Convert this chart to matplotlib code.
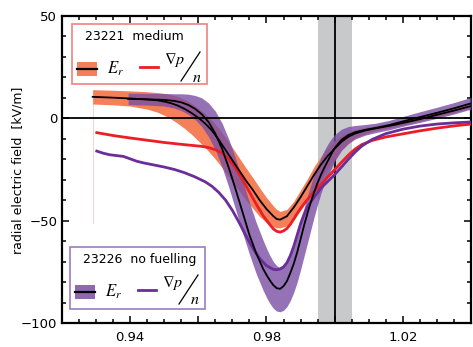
import numpy as np
import matplotlib
matplotlib.use("Agg")
import matplotlib.pyplot as plt
from matplotlib.patches import Rectangle
from matplotlib.lines import Line2D
from matplotlib.ticker import MultipleLocator, FixedLocator, FixedFormatter

plt.rcParams['font.family'] = ['DejaVu Sans']
plt.rcParams['mathtext.fontset'] = 'stix'

# 23221 medium: Er centre and band edges
ox = [0.929, 0.935, 0.940, 0.945, 0.948, 0.950, 0.952, 0.954, 0.956, 0.958, 0.960,
      0.962, 0.964, 0.966, 0.968, 0.970, 0.972, 0.974, 0.976, 0.978, 0.980, 0.982,
      0.983, 0.984, 0.986, 0.988, 0.990, 0.992, 0.994, 0.996, 0.998, 1.000, 1.002,
      1.004, 1.006, 1.009, 1.012, 1.016, 1.020, 1.025, 1.030, 1.035, 1.040]
o_er = [10.5, 10.1, 9.7, 9.2, 8.8, 8.2, 7.4, 6.2, 4.6, 2.6, 0.3,
        -2.5, -6, -10.5, -15.5, -20.5, -25.5, -30.5, -35, -40, -44.3, -47.8,
        -49.2, -49.5, -47.8, -43.5, -38.5, -33, -27.5, -22.5, -18.3, -14.8, -11.5,
        -9, -7.4, -5.9, -4.9, -3.7, -2.3, -0.4, 1.7, 3.8, 6]
o_hi = [14, 13.7, 13.4, 13, 12.6, 12.2, 11.6, 10.6, 9.2, 7.3, 5,
        2.3, -1, -5, -9.5, -14.3, -19.3, -24.3, -29, -34, -38.7, -42.8,
        -44.5, -45.5, -44.5, -40.5, -35, -29.5, -23.5, -18.5, -14.3, -11, -8.3,
        -6.6, -5.5, -4.4, -3.6, -2.6, -1.2, 0.7, 2.8, 4.9, 7]
o_lo = [7, 6.6, 6, 4.5, 3, 1.5, -0.3, -2.5, -5, -7.8, -11,
        -14.3, -18, -22, -26.5, -31, -35.5, -40, -44, -48, -51, -53,
        -53.5, -53.5, -52.5, -49.5, -45, -40, -35, -29.5, -24.5, -20, -15.5,
        -12, -9.6, -7.5, -6, -4.7, -3.3, -1.4, 0.7, 2.8, 5]

# 23226 no fuelling: Er centre and band edges
px_ = [0.9394, 0.945, 0.950, 0.953, 0.955, 0.957, 0.959, 0.961, 0.963, 0.965, 0.967,
       0.969, 0.971, 0.973, 0.975, 0.977, 0.979, 0.980, 0.981, 0.982, 0.983, 0.984,
       0.985, 0.986, 0.987, 0.988, 0.989, 0.990, 0.991, 0.992, 0.993, 0.994, 0.995,
       0.996, 0.997, 0.998, 0.999, 1.000, 1.002, 1.004, 1.006, 1.009, 1.012, 1.016,
       1.020, 1.025, 1.030, 1.035, 1.040]
p_er = [9.5, 9.3, 9, 8.5, 7.8, 6.6, 4.7, 2, -1.8, -7.5, -15,
        -24.5, -35, -46, -57, -66, -73.5, -76.5, -79.2, -81.5, -83, -83.3,
        -82, -79.5, -75.5, -71, -65.5, -59, -52.5, -46.5, -41, -36, -31.5,
        -27.5, -24, -20.8, -17.5, -14.5, -10.5, -8.2, -6.8, -5.6, -4.7, -3.3,
        -1.5, 0.6, 2.7, 4.9, 7.3]
p_hi = [12.3, 12.2, 12.1, 12, 12, 11.8, 11.2, 10, 7.5, 3.5, -2.5,
        -10.5, -20, -30.5, -41, -51, -59.5, -63.5, -67, -70, -72, -73,
        -72.5, -70.5, -67, -62.5, -57, -50.5, -44, -38, -32.5, -27.5, -23,
        -19, -15.5, -12.5, -10, -8, -5.3, -4, -3.5, -3, -2.4, -1,
        0.9, 3.2, 5.4, 7.7, 10.2]
p_lo = [6.7, 6.5, 6, 5, 3.8, 2, -0.5, -4, -9, -15.5, -24,
        -34, -45, -56, -66.5, -76, -84, -87.5, -90.5, -92.8, -94.2, -94.5,
        -93.8, -92, -89, -85, -80, -74, -67.5, -61, -54.5, -48, -42,
        -36.5, -32, -28, -24.5, -21, -15.7, -12.4, -10.1, -8.2, -7, -5.6,
        -3.9, -2, 0, 2.1, 4.5]

# grad p / n profiles
rx = [0.9302, 0.935, 0.940, 0.945, 0.950, 0.955, 0.958, 0.961, 0.963, 0.965, 0.967,
      0.969, 0.971, 0.973, 0.975, 0.977, 0.979, 0.981, 0.982, 0.983, 0.984, 0.985,
      0.986, 0.987, 0.988, 0.989, 0.990, 0.991, 0.992, 0.994, 0.996, 0.998, 1.000,
      1.002, 1.004, 1.006, 1.008, 1.011, 1.015, 1.020, 1.025, 1.030, 1.035, 1.040]
r_gp = [-7, -8.4, -9.6, -10.7, -11.8, -12.7, -13.2, -13.7, -14.3, -15.3, -17,
        -20, -24.5, -30, -36, -42, -47.5, -52, -54, -55.2, -55.6, -55,
        -53.8, -51.8, -49.2, -46.5, -44, -41.8, -39.7, -35.8, -32.2, -28.6, -25.1,
        -21.5, -18, -15, -12.8, -10.8, -9.1, -7.6, -6.1, -4.8, -3.7, -2.8]
vx = [0.9302, 0.932, 0.934, 0.936, 0.938, 0.940, 0.942, 0.944, 0.947, 0.950, 0.953,
      0.956, 0.959, 0.962, 0.964, 0.966, 0.968, 0.970, 0.972, 0.974, 0.976, 0.978,
      0.980, 0.982, 0.983, 0.984, 0.985, 0.986, 0.987, 0.988, 0.989, 0.990, 0.991,
      0.992, 0.994, 0.996, 0.998, 1.000, 1.002, 1.004, 1.006, 1.008, 1.011, 1.015,
      1.020, 1.025, 1.030, 1.035, 1.040]
v_gp = [-16, -17, -17.8, -18.2, -18.6, -19.8, -21, -21.8, -22.8, -23.8, -25,
        -26.6, -28.6, -31, -33.2, -36.2, -40, -45, -51, -57.5, -63.5, -68.5,
        -72, -73.8, -74, -73.6, -72.6, -70.5, -67, -62.5, -57, -51.5, -47,
        -43.2, -38.5, -34, -30.8, -27.5, -23.8, -20, -16.5, -13.5, -10.3, -7.5,
        -5.3, -3.8, -2.8, -2.2, -1.8]

sep_band = (0.995, 1.005)
x_major = [0.92, 0.94, 0.96, 0.98, 1.00, 1.02, 1.04]
x_labels = ['', '0.94', '', '0.98', '', '1.02', '']
y_major = [-100, -50, 0, 50]

c_orange = '#F4805A'
c_purple = '#7A4FA3'
c_red = '#EE1C25'
c_vio = '#6A2D9A'

W, H = 473, 347
fig = plt.figure(figsize=(W / 100, H / 100), dpi=100)
ax = fig.add_axes([62 / W, 24 / H, 409 / W, 307 / H])


def fp(x, y):
    return (x / W, 1 - y / H)


ax.axvspan(*sep_band, color='#C8C9CB', lw=0, zorder=0)
ax.axvline(1.0, color='black', lw=1.3, zorder=1)

ax.fill_between(ox, o_lo, o_hi, color=c_orange, lw=0, zorder=2)
ax.plot([ox[0], ox[0]], [o_hi[0], -51], color='#F8D5CC', lw=0.7, zorder=1)
ax.fill_between(px_, p_lo, p_hi, color=c_purple, alpha=0.8, lw=0, zorder=3)
ax.axhline(0, color='black', lw=1.3, zorder=4)
ax.plot(rx, r_gp, color=c_red, lw=2, zorder=5)
ax.plot(vx, v_gp, color=c_vio, lw=2, zorder=5)
ax.plot(ox, o_er, color='black', lw=1.3, zorder=6)
ax.plot(px_, p_er, color='black', lw=1.3, zorder=6)

ax.set_xlim(0.92, 1.04)
ax.set_ylim(-100, 50)
ax.xaxis.set_major_locator(FixedLocator(x_major))
ax.xaxis.set_major_formatter(FixedFormatter(x_labels))
ax.xaxis.set_minor_locator(MultipleLocator(0.005))
ax.yaxis.set_major_locator(FixedLocator(y_major))
ax.yaxis.set_minor_locator(MultipleLocator(10))
ax.tick_params(which='both', direction='in', top=True, right=True, width=1.1,
               labelsize=9.5, colors='black')
ax.tick_params(which='major', length=5)
ax.tick_params(which='minor', length=3)
ax.tick_params(axis='x', pad=6)
for s in ax.spines.values():
    s.set_linewidth(1.6)

fig.text(*fp(18, 170), 'radial electric field  [kV/m]', rotation=90,
         ha='center', va='center', fontsize=9)


def legend_box(x0, y0, x1, y1, tx, edge, title, band_col, band_alpha, line_col):
    fig.add_artist(Rectangle(fp(x0, y1), (x1 - x0) / W, (y1 - y0) / H,
                             transform=fig.transFigure, facecolor='white',
                             edgecolor=edge, lw=1.2, zorder=10))
    fig.text(*fp(tx, y0 + 13), title, ha='center', va='center',
             fontsize=9, zorder=11)
    ym = y0 + 45
    fig.add_artist(Rectangle(fp(x0 + 5, ym + 7), 20 / W, 14 / H,
                             transform=fig.transFigure, facecolor=band_col,
                             alpha=band_alpha, lw=0, zorder=11))
    fig.add_artist(Line2D([(x0 + 5) / W, (x0 + 25) / W], [1 - ym / H] * 2,
                          transform=fig.transFigure, color='black', lw=1.6,
                          zorder=12))
    fig.text(*fp(x0 + 35, ym), r'$E_r$', ha='left', va='center', fontsize=12,
             zorder=11)
    fig.add_artist(Line2D([(x0 + 68) / W, (x0 + 86) / W], [1 - (ym - 2) / H] * 2,
                          transform=fig.transFigure, color=line_col, lw=2,
                          zorder=11))
    fig.text(*fp(x0 + 92, ym - 9), r'$\nabla p$', ha='left', va='center',
             fontsize=11.5, zorder=11)
    fig.add_artist(Line2D([(x0 + 109) / W, (x0 + 128) / W],
                          [1 - (ym + 12) / H, 1 - (ym - 17) / H],
                          transform=fig.transFigure, color='black', lw=0.9,
                          zorder=11))
    fig.text(*fp(x0 + 120, ym + 8), r'$n$', ha='left', va='center',
             fontsize=11.5, zorder=11)


legend_box(72, 24, 207, 84, 134, '#F08080', '23221  medium', c_orange, 1.0, c_red)
legend_box(70, 247, 205, 309, 140, '#9B7BC0', '23226  no fuelling', c_purple, 0.85,
           c_vio)

fig.savefig('out.png', dpi=100)
